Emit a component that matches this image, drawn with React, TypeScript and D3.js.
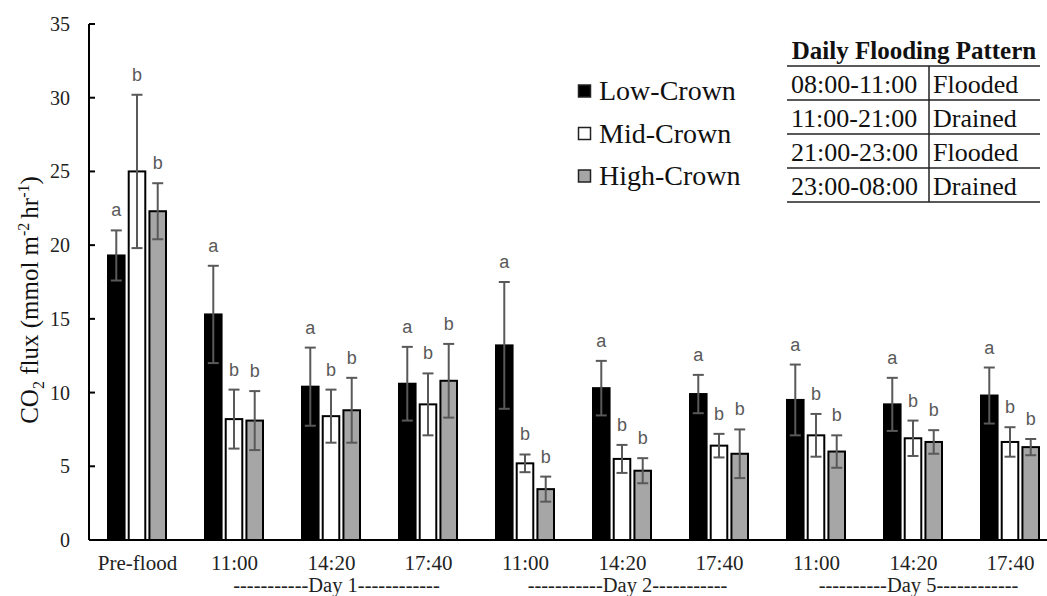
import * as d3 from "d3";

// time points along the x axis
const categories = ["Pre-flood", "11:00", "14:20", "17:40", "11:00", "14:20", "17:40", "11:00", "14:20", "17:40"];
const seriesNames = ["Low-Crown", "Mid-Crown", "High-Crown"];

// mean CO2 flux per series (mmol m-2 hr-1)
const lowCrown = [19.3, 15.3, 10.4, 10.6, 13.2, 10.3, 9.9, 9.5, 9.2, 9.8];
const midCrown = [25.0, 8.2, 8.4, 9.2, 5.2, 5.5, 6.4, 7.1, 6.9, 6.65];
const highCrown = [22.3, 8.1, 8.8, 10.8, 3.45, 4.7, 5.85, 6.0, 6.65, 6.3];

// error bar half widths
const lowErr = [1.7, 3.3, 2.65, 2.5, 4.3, 1.85, 1.3, 2.4, 1.8, 1.9];
const midErr = [5.2, 2.0, 1.8, 2.1, 0.6, 0.95, 0.8, 1.45, 1.2, 1.0];
const highErr = [1.9, 2.0, 2.2, 2.5, 0.85, 0.85, 1.65, 1.1, 0.8, 0.55];

// significance letters
const lowLetters = ["a", "a", "a", "a", "a", "a", "a", "a", "a", "a"];
const midLetters = ["b", "b", "b", "b", "b", "b", "b", "b", "b", "b"];
const highLetters = ["b", "b", "b", "b", "b", "b", "b", "b", "b", "b"];

const yTicks = [0, 5, 10, 15, 20, 25, 30, 35];

// day groups: label + indices of the categories they span
const dayGroups = [
  { label: "-----------Day 1------------", idx: [1, 2, 3] },
  { label: "-----------Day 2-----------", idx: [4, 5, 6] },
  { label: "----------Day 5------------", idx: [7, 8, 9] },
];

const floodRows = [
  ["08:00-11:00", "Flooded"],
  ["11:00-21:00", "Drained"],
  ["21:00-23:00", "Flooded"],
  ["23:00-08:00", "Drained"],
];

const fills = ["#000000", "#ffffff", "#a6a6a6"];
const serif = "'Liberation Serif', 'Times New Roman', serif";
const sans = "'Liberation Sans', Arial, sans-serif";

export default function App() {
  const width = 1047;
  const height = 596;
  const margin = { left: 89, top: 24, bottom: 540 };

  const values = [lowCrown, midCrown, highCrown];
  const errs = [lowErr, midErr, highErr];
  const letters = [lowLetters, midLetters, highLetters];

  const x = d3.scaleBand<number>().domain(d3.range(categories.length)).range([margin.left, margin.left + 970]).padding(0);
  const xInner = d3.scaleBand<number>().domain([0, 1, 2]).range([19, 77]).paddingInner(0.2).paddingOuter(0);
  const y = d3.scaleLinear().domain([0, 35]).range([margin.bottom, margin.top]);

  const center = (i: number) => (x(i) ?? 0) + x.bandwidth() / 2;

  return (
    <svg width={width} height={height} style={{ position: "absolute", left: 0, top: 0, background: "#fff" }}>
      {/* y axis */}
      <line x1={margin.left} x2={margin.left} y1={y(35)} y2={y(0)} stroke="#000" strokeWidth={2} />
      {yTicks.map(t => (
        <g key={t}>
          <line x1={margin.left} x2={margin.left + 6} y1={y(t)} y2={y(t)} stroke="#000" strokeWidth={2} />
          <text x={70} y={y(t)} dy="0.35em" textAnchor="end" fontFamily={serif} fontSize={20} fill="#222">{t}</text>
        </g>
      ))}
      <text transform="translate(38,300) rotate(-90)" textAnchor="middle" fontFamily={serif} fontSize={25} fill="#111">
        CO<tspan fontSize={16} dy={6}>2</tspan><tspan dy={-6}> flux (mmol m</tspan><tspan fontSize={16} dy={-9}>-2 </tspan><tspan dy={9}>hr</tspan><tspan fontSize={16} dy={-9}>-1</tspan><tspan dy={9}>)</tspan>
      </text>

      {/* bars */}
      {categories.map((c, i) => (
        <g key={i}>
          {values.map((v, s) => {
            const bx = (x(i) ?? 0) + (xInner(s) ?? 0);
            const bw = xInner.bandwidth();
            const cx = bx + bw / 2;
            const top = y(v[i] + errs[s][i]);
            const bot = y(v[i] - errs[s][i]);
            return (
              <g key={s}>
                <rect x={bx} y={y(v[i])} width={bw} height={y(0) - y(v[i])} fill={fills[s]} stroke="#000" strokeWidth={2} />
                <line x1={cx} x2={cx} y1={top} y2={bot} stroke="#595959" strokeWidth={2} />
                <line x1={cx - 5.5} x2={cx + 5.5} y1={top} y2={top} stroke="#595959" strokeWidth={2} />
                <line x1={cx - 5.5} x2={cx + 5.5} y1={bot} y2={bot} stroke="#595959" strokeWidth={2} />
                <text x={cx} y={top - 14} textAnchor="middle" fontFamily={sans} fontSize={18} fill="#595959">{letters[s][i]}</text>
              </g>
            );
          })}
          <text x={center(i)} y={570} textAnchor="middle" fontFamily={serif} fontSize={21} fill="#222">{c}</text>
        </g>
      ))}

      {/* x axis */}
      <line x1={margin.left} x2={width} y1={y(0)} y2={y(0)} stroke="#000" strokeWidth={2} />

      {dayGroups.map(g => (
        <text key={g.label} x={center(g.idx[1]) + 5} y={592} textAnchor="middle" fontFamily={serif} fontSize={20.5} fill="#222">{g.label}</text>
      ))}

      {/* legend */}
      {seriesNames.map((n, s) => (
        <g key={n} transform={`translate(578, ${91 + s * 42.5})`}>
          <rect x={0.5} y={-6} width={12} height={12} fill={fills[s]} stroke="#222" strokeWidth={1.5} />
          <text x={21} y={0} dy="0.33em" fontFamily={serif} fontSize={28} fill="#111">{n}</text>
        </g>
      ))}

      {/* flooding pattern table */}
      <text x={914} y={59} textAnchor="middle" fontFamily={serif} fontWeight="bold" fontSize={25} fill="#111">Daily Flooding Pattern</text>
      {d3.range(floodRows.length + 1).map(r => (
        <line key={r} x1={787} x2={1040} y1={66 + r * 34} y2={66 + r * 34} stroke="#222" strokeWidth={1.5} />
      ))}
      <line x1={929} x2={929} y1={66} y2={202} stroke="#222" strokeWidth={1.5} />
      {floodRows.map((row, r) => (
        <g key={r}>
          <text x={791} y={93 + r * 34} fontFamily={serif} fontSize={26} fill="#111">{row[0]}</text>
          <text x={933} y={93 + r * 34} fontFamily={serif} fontSize={26} fill="#111">{row[1]}</text>
        </g>
      ))}
    </svg>
  );
}
